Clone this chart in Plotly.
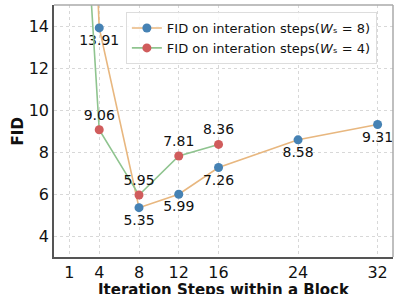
import plotly.graph_objects as go

steps_ws8 = [1, 4, 8, 12, 16, 24, 32]
fid_ws8 = [47.0, 13.91, 5.35, 5.99, 7.26, 8.58, 9.31]
labels_ws8 = ["", "13.91", "5.35", "5.99", "7.26", "8.58", "9.31"]
pos_ws8 = ["bottom center"] * 7

steps_ws4 = [1, 4, 8, 12, 16]
fid_ws4 = [32.0, 9.06, 5.95, 7.81, 8.36]
labels_ws4 = ["", "9.06", "5.95", "7.81", "8.36"]
pos_ws4 = ["top center"] * 5

x_ticks = [1, 4, 8, 12, 16, 24, 32]
y_ticks = [4, 6, 8, 10, 12, 14]

FONT = "DejaVu Sans"

fig = go.Figure()
fig.add_trace(go.Scatter(
    x=steps_ws8, y=fid_ws8, mode="lines+markers+text",
    name="FID on interation steps(<i>W</i>\u209b = 8)",
    line=dict(color="#e8b77f", width=1.6),
    marker=dict(color="#4682b4", size=9),
    text=labels_ws8, textposition=pos_ws8, cliponaxis=False,
    textfont=dict(family=FONT, size=14, color="#111"),
))
fig.add_trace(go.Scatter(
    x=steps_ws4, y=fid_ws4, mode="lines+markers+text",
    name="FID on interation steps(<i>W</i>\u209b = 4)",
    line=dict(color="#8fc48f", width=1.6),
    marker=dict(color="#d05c5c", size=9),
    text=labels_ws4, textposition=pos_ws4, cliponaxis=False,
    textfont=dict(family=FONT, size=14, color="#111"),
))

fig.update_layout(
    width=399, height=294,
    margin=dict(l=54, r=6, t=5, b=37),
    paper_bgcolor="white", plot_bgcolor="white",
    font=dict(family=FONT, color="#111"),
    showlegend=True,
    legend=dict(
        x=0.212, y=0.972, xanchor="left", yanchor="top",
        bgcolor="rgba(255,255,255,0.85)", bordercolor="#dddddd", borderwidth=1,
        font=dict(family=FONT, size=13, color="#111"),
        tracegroupgap=0, itemwidth=30,
    ),
    xaxis=dict(
        range=[-0.55, 33.55], tickvals=x_ticks, ticktext=[str(v) for v in x_ticks],
        tickfont=dict(family=FONT, size=16, color="#111"),
        showgrid=True, gridcolor="#d8d8d8", griddash="dot", gridwidth=1,
        showline=True, linecolor="#555555", linewidth=1.5,
        ticks="", zeroline=False, automargin=False,
    ),
    yaxis=dict(
        range=[3, 15], tickvals=y_ticks, ticktext=[str(v) for v in y_ticks],
        tickfont=dict(family=FONT, size=16, color="#111"),
        showgrid=True, gridcolor="#d8d8d8", griddash="dot", gridwidth=1,
        showline=True, linecolor="#555555", linewidth=1.5,
        ticks="", zeroline=False, automargin=False,
    ),
    shapes=[
        dict(type="line", xref="paper", yref="paper", x0=0, x1=1, y0=1, y1=1,
             line=dict(color="#aaaaaa", width=1.5)),
        dict(type="line", xref="paper", yref="paper", x0=1, x1=1, y0=0, y1=1,
             line=dict(color="#aaaaaa", width=1.5)),
    ],
    annotations=[
        dict(text="<b>Iteration Steps within a Block</b>", xref="paper", yref="paper",
             x=0.5, y=-0.132, xanchor="center", yanchor="middle", showarrow=False,
             font=dict(family=FONT, size=15, color="#111")),
        dict(text="<b>FID</b>", xref="paper", yref="paper", textangle=-90,
             x=-0.105, y=0.5, xanchor="center", yanchor="middle", showarrow=False,
             font=dict(family=FONT, size=15, color="#111")),
    ],
)

fig.write_html(
    "out.html",
    config={"displayModeBar": False},
    post_script="document.body.style.margin='0';document.body.style.padding='0';",
)
